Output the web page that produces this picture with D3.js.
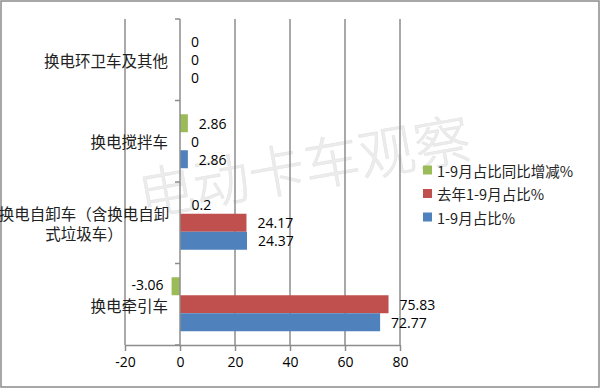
<!DOCTYPE html>
<html><head><meta charset="utf-8">
<script src="https://cdn.jsdelivr.net/npm/d3@7"></script>
<style>body{margin:0;background:#fff}svg{display:block}</style>
</head><body><div id="c"></div>
<script>
const categories = ["换电环卫车及其他", "换电搅拌车", "换电自卸车（含换电自卸式垃圾车）", "换电牵引车"];
const categoryLines = [["换电环卫车及其他"], ["换电搅拌车"], ["换电自卸车（含换电自卸", "式垃圾车）"], ["换电牵引车"]];
const seriesNames = ["1-9月占比同比增减%", "去年1-9月占比%", "1-9月占比%"];
const changeValues = [0, 2.86, 0.2, -3.06];
const lastYearValues = [0, 0, 24.17, 75.83];
const thisYearValues = [0, 2.86, 24.37, 72.77];
const xTicks = [-20, 0, 20, 40, 60, 80];
const colors = ["#9BBB59", "#C0504D", "#4F81BD"];
const seriesValues = [changeValues, lastYearValues, thisYearValues];

const W = 600, H = 388;
const svg = d3.select("#c").append("svg").attr("width", W).attr("height", H);
svg.append("rect").attr("x", 1).attr("y", 1).attr("width", W - 2).attr("height", H - 2)
  .attr("fill", "#fff").attr("stroke", "#8a8a8a").attr("stroke-width", 1.5);

const x = d3.scaleLinear().domain([-20, 80]).range([125, 400]);
const y = d3.scaleBand().domain(categories).range([19, 345]).paddingInner(0).paddingOuter(0);
const yi = d3.scaleBand().domain(seriesNames).range([0, y.bandwidth()]).paddingInner(0).paddingOuter(0.764);

// watermark
svg.append("text").attr("transform", "translate(305,172) rotate(-10)")
  .attr("text-anchor", "middle").attr("dominant-baseline", "middle")
  .attr("font-family", "Noto Sans CJK SC").attr("font-weight", 300).attr("font-size", 56)
  .attr("fill", "#ececec").attr("stroke", "#e4e4e4").attr("stroke-width", 0.6)
  .text("电动卡车观察");

// gridlines
const gridColor = "#8c8c8c";
svg.append("g").selectAll("line").data(xTicks.filter(t => t !== 0)).join("line")
  .attr("x1", d => x(d)).attr("x2", d => x(d)).attr("y1", 19).attr("y2", 345)
  .attr("stroke", gridColor).attr("stroke-width", 1.5);

// bars
const rows = [];
categories.forEach((c, i) => seriesNames.forEach((s, j) => rows.push({c, s, j, v: seriesValues[j][i]})));
svg.append("g").selectAll("rect").data(rows).join("rect")
  .attr("x", d => x(Math.min(0, d.v))).attr("width", d => Math.abs(x(d.v) - x(0)))
  .attr("y", d => y(d.c) + yi(d.s)).attr("height", yi.bandwidth())
  .attr("fill", d => colors[d.j]);

// data labels
svg.append("g").selectAll("text").data(rows).join("text")
  .attr("x", d => d.v < 0 ? x(d.v) - 8 : x(d.v) + 11)
  .attr("y", d => y(d.c) + yi(d.s) + yi.bandwidth() / 2 - (d.v < 0 ? 2 : 0))
  .attr("text-anchor", d => d.v < 0 ? "end" : "start")
  .attr("dominant-baseline", "central")
  .attr("font-family", "Open Sans").attr("font-size", 14).attr("fill", "#000")
  .text(d => d.v);

// y axis at zero
const yAxis = svg.append("g");
yAxis.append("line").attr("x1", x(0)).attr("x2", x(0)).attr("y1", 19).attr("y2", 345)
  .attr("stroke", gridColor).attr("stroke-width", 1.5);
yAxis.selectAll("line.t").data(categories.concat(["end"])).join("line").attr("class", "t")
  .attr("x1", x(0) - 5).attr("x2", x(0))
  .attr("y1", (d, i) => i < categories.length ? y(d) : 345)
  .attr("y2", (d, i) => i < categories.length ? y(d) : 345)
  .attr("stroke", gridColor).attr("stroke-width", 1.5);

// x axis
const xAxis = svg.append("g").attr("transform", "translate(0,345)")
  .call(d3.axisBottom(x).tickValues(xTicks).tickSize(6).tickSizeOuter(0).tickFormat(d => String(d)));
xAxis.select(".domain").attr("stroke", gridColor).attr("stroke-width", 1.5);
xAxis.selectAll(".tick line").attr("stroke", gridColor).attr("stroke-width", 1.5);
xAxis.selectAll(".tick text").attr("font-family", "Open Sans").attr("font-size", 14).attr("fill", "#000").attr("dy", "0.9em");

// category labels
categories.forEach((c, i) => {
  const lines = categoryLines[i];
  const cy = y(c) + y.bandwidth() / 2;
  const multi = lines.length > 1;
  lines.forEach((ln, k) => {
    svg.append("text")
      .attr("x", multi ? 84 : 168)
      .attr("y", cy + (k - (lines.length - 1) / 2) * 20 + (i === 3 ? 1 : 0))
      .attr("text-anchor", multi ? "middle" : "end")
      .attr("dominant-baseline", "central")
      .attr("font-family", "Noto Sans CJK SC").attr("font-size", 15.5).attr("fill", "#222")
      .text(ln);
  });
});

// legend
const lg = svg.append("g");
seriesNames.forEach((s, j) => {
  const ly = 170 + j * 23.5;
  lg.append("rect").attr("x", 423).attr("y", ly - 4.5).attr("width", 9).attr("height", 9).attr("fill", colors[j]);
  lg.append("text").attr("x", 437).attr("y", ly).attr("dominant-baseline", "central")
    .attr("font-family", "Noto Sans CJK SC").attr("font-size", 14.5).attr("fill", "#222").text(s);
});
</script></body></html>
